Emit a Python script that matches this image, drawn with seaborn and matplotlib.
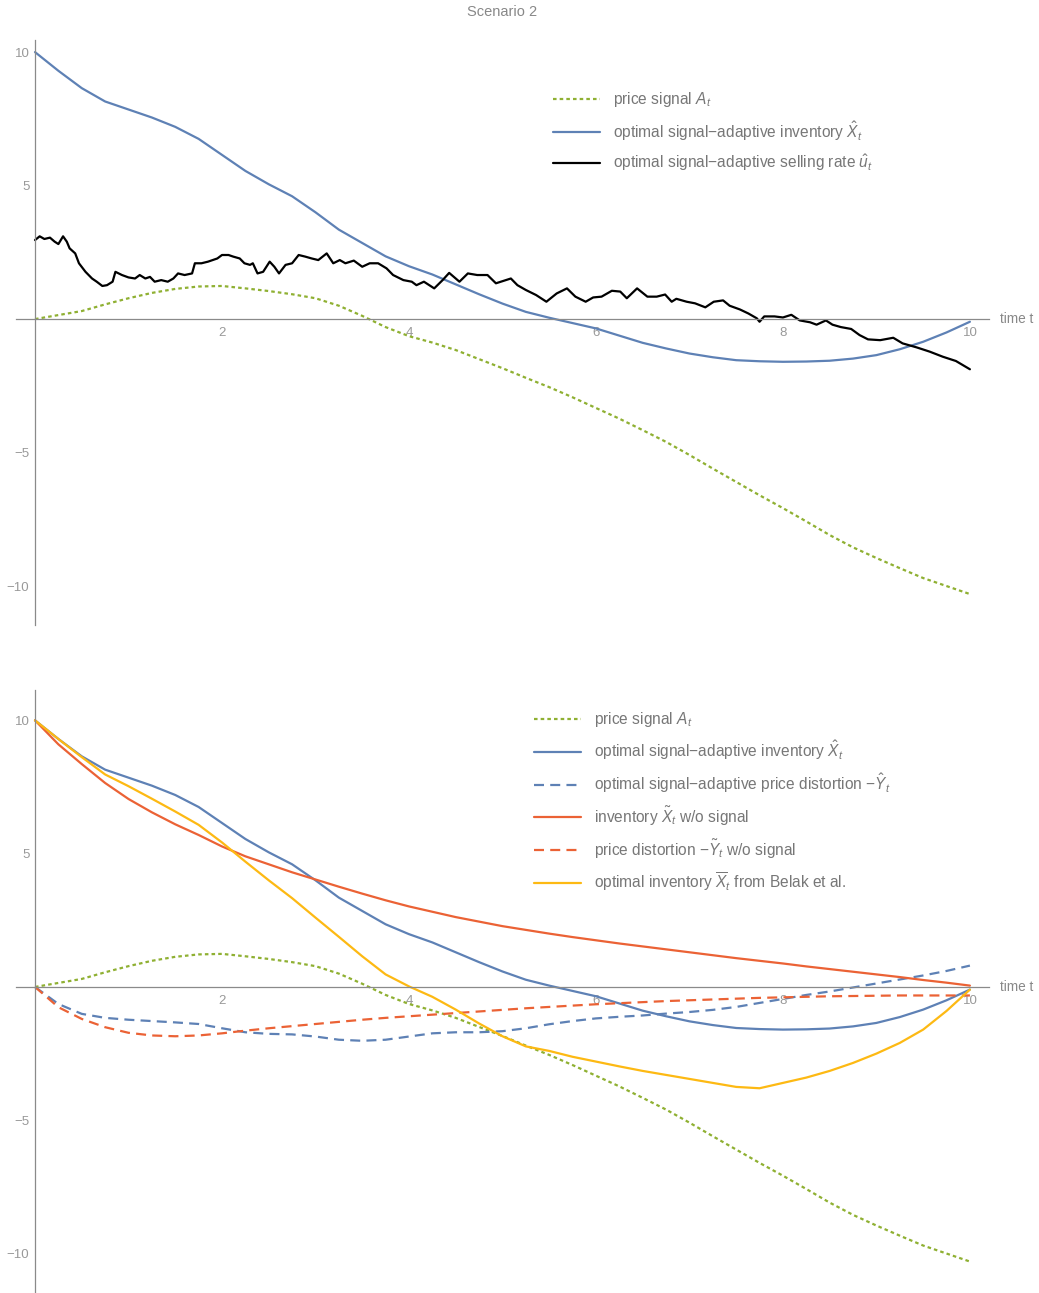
"""
Scenario 2: price signal, inventories and selling rate
"""

import matplotlib
matplotlib.use("Agg")
import matplotlib.pyplot as plt
import numpy as np
import seaborn as sns
from matplotlib.ticker import FixedLocator

# time grid (quarter steps)
t = [i * 0.25 for i in range(41)]

price_signal = [0, 0.15, 0.3, 0.55, 0.78, 0.98, 1.13, 1.22, 1.24, 1.15, 1.05, 0.93, 0.78, 0.5,
                0.12, -0.3, -0.64, -0.88, -1.16, -1.5, -1.84, -2.2, -2.55, -2.93, -3.33, -3.73,
                -4.16, -4.6, -5.09, -5.6, -6.1, -6.6, -7.08, -7.58, -8.09, -8.55, -8.95, -9.33,
                -9.7, -10.0, -10.3]

inv_hat = [10, 9.3, 8.65, 8.15, 7.85, 7.55, 7.2, 6.75, 6.15, 5.55, 5.05, 4.6, 4.0, 3.35, 2.85,
           2.35, 1.98, 1.67, 1.3, 0.93, 0.58, 0.27, 0.05, -0.15, -0.35, -0.62, -0.89, -1.1,
           -1.29, -1.43, -1.54, -1.58, -1.6, -1.59, -1.56, -1.48, -1.35, -1.13, -0.85, -0.5, -0.1]

dist_hat = [0, -0.64, -1.01, -1.16, -1.23, -1.28, -1.33, -1.39, -1.55, -1.7, -1.76, -1.78, -1.86,
            -1.98, -2.02, -1.98, -1.86, -1.74, -1.7, -1.7, -1.66, -1.55, -1.4, -1.28, -1.18,
            -1.12, -1.07, -1.0, -0.94, -0.86, -0.75, -0.6, -0.45, -0.3, -0.17, -0.02, 0.13, 0.28,
            0.43, 0.6, 0.8]

inv_tilde = [10, 9.1, 8.36, 7.65, 7.05, 6.55, 6.1, 5.7, 5.27, 4.9, 4.6, 4.3, 4.03, 3.76, 3.5,
             3.25, 3.02, 2.82, 2.62, 2.45, 2.28, 2.14, 2.0, 1.87, 1.75, 1.63, 1.52, 1.41, 1.3,
             1.19, 1.08, 0.98, 0.88, 0.77, 0.67, 0.57, 0.47, 0.37, 0.26, 0.16, 0.05]

dist_tilde = [0, -0.76, -1.2, -1.51, -1.72, -1.82, -1.85, -1.82, -1.74, -1.64, -1.55, -1.47,
              -1.39, -1.31, -1.23, -1.16, -1.1, -1.04, -0.98, -0.92, -0.86, -0.8, -0.75, -0.7,
              -0.65, -0.61, -0.57, -0.53, -0.5, -0.47, -0.44, -0.41, -0.39, -0.37, -0.35, -0.34,
              -0.33, -0.32, -0.32, -0.32, -0.32]

inv_belak = [10, 9.3, 8.62, 7.97, 7.53, 7.06, 6.58, 6.08, 5.42, 4.7, 4.0, 3.33, 2.6, 1.88, 1.15,
             0.47, 0.02, -0.37, -0.85, -1.37, -1.85, -2.23, -2.4, -2.62, -2.8, -2.98, -3.15,
             -3.3, -3.45, -3.6, -3.75, -3.8, -3.6, -3.4, -3.15, -2.85, -2.5, -2.1, -1.6, -0.9, -0.1]

# selling rate path
t_rate = [0.0, 0.05, 0.1, 0.16, 0.21, 0.25, 0.30, 0.34, 0.37, 0.43, 0.47, 0.54, 0.61, 0.66, 0.72,
          0.77, 0.83, 0.86, 0.93, 1.0, 1.07, 1.12, 1.18, 1.23, 1.28, 1.35, 1.42, 1.48, 1.53, 1.6,
          1.68, 1.71, 1.78, 1.85, 1.9, 1.95, 2.0, 2.07, 2.12, 2.19, 2.24, 2.3, 2.33, 2.38, 2.44,
          2.51, 2.56, 2.61, 2.68, 2.75, 2.82, 2.89, 2.96, 3.03, 3.12, 3.19, 3.26, 3.32, 3.41, 3.5,
          3.58, 3.67, 3.76, 3.83, 3.94, 4.03, 4.08, 4.16, 4.27, 4.36, 4.43, 4.54, 4.63, 4.73,
          4.84, 4.93, 5.02, 5.09, 5.16, 5.25, 5.36, 5.47, 5.58, 5.69, 5.78, 5.89, 5.97, 6.06,
          6.17, 6.26, 6.33, 6.44, 6.55, 6.65, 6.74, 6.81, 6.86, 6.97, 7.06, 7.17, 7.26, 7.36,
          7.43, 7.54, 7.63, 7.72, 7.75, 7.8, 7.91, 8.0, 8.09, 8.18, 8.29, 8.36, 8.46, 8.53, 8.62,
          8.73, 8.82, 8.91, 9.04, 9.18, 9.28, 9.43, 9.57, 9.71, 9.85, 10.0]
selling_rate = [2.96, 3.1, 3.0, 3.05, 2.9, 2.81, 3.1, 2.9, 2.65, 2.46, 2.09, 1.77, 1.52, 1.4, 1.24,
                1.27, 1.4, 1.77, 1.65, 1.56, 1.52, 1.65, 1.52, 1.58, 1.4, 1.46, 1.4, 1.52, 1.71,
                1.65, 1.71, 2.09, 2.09, 2.15, 2.21, 2.27, 2.4, 2.4, 2.34, 2.27, 2.09, 2.03, 2.09,
                1.71, 1.77, 2.15, 1.96, 1.71, 2.03, 2.09, 2.4, 2.34, 2.27, 2.21, 2.46, 2.09, 2.21,
                2.09, 2.19, 1.96, 2.09, 2.09, 1.9, 1.65, 1.46, 1.4, 1.27, 1.4, 1.15, 1.46, 1.73,
                1.4, 1.71, 1.65, 1.65, 1.34, 1.44, 1.52, 1.27, 1.09, 0.9, 0.65, 0.96, 1.15, 0.84,
                0.65, 0.81, 0.84, 1.06, 1.03, 0.78, 1.15, 0.84, 0.84, 0.92, 0.65, 0.76, 0.65, 0.59,
                0.44, 0.65, 0.7, 0.5, 0.36, 0.21, 0.03, -0.1, 0.1, 0.1, 0.06, 0.16, -0.05, -0.12,
                -0.21, -0.05, -0.21, -0.3, -0.37, -0.6, -0.76, -0.79, -0.7, -0.91, -1.06, -1.22,
                -1.41, -1.57, -1.88]

C_GREEN = "#8FB032"
C_BLUE = "#5E81B5"
C_RED = "#EB6235"
C_YELLOW = "#FDB913"
C_GRAY = "#8a8a8a"

sns.set_theme(style="white")
plt.rcParams["font.family"] = ["Liberation Sans", "DejaVu Sans"]
plt.rcParams["mathtext.fontset"] = "custom"
plt.rcParams["mathtext.rm"] = "Liberation Sans"
plt.rcParams["mathtext.it"] = "Liberation Sans:italic"

DOT = (0, (1.6, 1.4))
DASH = (0, (4.5, 2.8))
LW = 1.6
LEG_FS = 11.2

fig = plt.figure(figsize=(10.39, 12.93), dpi=100)
ax1 = fig.add_axes([0.0157, 0.5166, 0.9358, 0.4524])
ax2 = fig.add_axes([0.0157, 0.0, 0.9358, 0.4664])


def style_axes(ax, ylim):
    ax.set_xlim(-0.2, 10.2)
    ax.set_ylim(*ylim)
    for s in ["top", "right"]:
        ax.spines[s].set_visible(False)
    ax.spines["left"].set_position(("data", 0))
    ax.spines["bottom"].set_position(("data", 0))
    for s in ["left", "bottom"]:
        ax.spines[s].set_color(C_GRAY)
        ax.spines[s].set_linewidth(0.9)
    ax.xaxis.set_major_locator(FixedLocator([2, 4, 6, 8, 10]))
    ax.xaxis.set_minor_locator(FixedLocator([x * 0.5 for x in range(1, 21) if x % 4]))
    ax.yaxis.set_major_locator(FixedLocator([-10, -5, 5, 10]))
    ax.yaxis.set_minor_locator(FixedLocator([y for y in range(-11, 11) if y % 5]))
    ax.tick_params(which="both", direction="in", colors=C_GRAY, labelcolor="#999999",
                   labelsize=9.5, width=0.8)
    ax.tick_params(which="major", length=4.5)
    ax.tick_params(which="minor", length=3)
    ax.tick_params(axis="x", pad=6)
    ax.tick_params(axis="y", pad=4)
    ax.set_xlabel("")
    ax.set_ylabel("")
    ax.text(10.32, 0, "time t", ha="left", va="center", color="#888888", fontsize=9.8,
            clip_on=False)


# top panel
sns.lineplot(x=t, y=price_signal, ax=ax1, color=C_GREEN, linestyle=DOT, lw=LW,
             label=r"price signal $A_t$")
sns.lineplot(x=t, y=inv_hat, ax=ax1, color=C_BLUE, lw=LW,
             label=r"optimal signal$-$adaptive inventory $\hat{X}_t$")
sns.lineplot(x=t_rate, y=selling_rate, ax=ax1, color="black", lw=1.6,
             label=r"optimal signal$-$adaptive selling rate $\hat{u}_t$")
style_axes(ax1, (-11.46, 10.45))
ax1.legend(loc="upper left", bbox_to_anchor=(553 / 1039, 1 - 90 / 1293),
           bbox_transform=fig.transFigure, frameon=False, fontsize=LEG_FS, handlelength=3.0,
           handletextpad=0.85, labelspacing=0.66, borderpad=0, borderaxespad=0,
           labelcolor="#777777")

# bottom panel
sns.lineplot(x=t, y=price_signal, ax=ax2, color=C_GREEN, linestyle=DOT, lw=LW,
             label=r"price signal $A_t$")
sns.lineplot(x=t, y=inv_hat, ax=ax2, color=C_BLUE, lw=LW,
             label=r"optimal signal$-$adaptive inventory $\hat{X}_t$")
sns.lineplot(x=t, y=dist_hat, ax=ax2, color=C_BLUE, linestyle=DASH, lw=LW,
             label=r"optimal signal$-$adaptive price distortion $-\hat{Y}_t$")
sns.lineplot(x=t, y=inv_tilde, ax=ax2, color=C_RED, lw=LW,
             label=r"inventory $\tilde{X}_t$ w/o signal")
sns.lineplot(x=t, y=dist_tilde, ax=ax2, color=C_RED, linestyle=DASH, lw=LW,
             label=r"price distortion $-\tilde{Y}_t$ w/o signal")
sns.lineplot(x=t, y=inv_belak, ax=ax2, color=C_YELLOW, lw=LW,
             label=r"optimal inventory $\overline{X}_t$ from Belak et al.")
style_axes(ax2, (-11.48, 11.14))
ax2.legend(loc="upper left", bbox_to_anchor=(534 / 1039, 1 - 710 / 1293),
           bbox_transform=fig.transFigure, frameon=False, fontsize=LEG_FS, handlelength=3.0,
           handletextpad=0.85, labelspacing=0.62, borderpad=0, borderaxespad=0,
           labelcolor="#777777")

fig.text(502 / 1039, 1 - 12 / 1293, "Scenario 2", ha="center", va="center",
         color="#888888", fontsize=10.5)

fig.savefig("out.png", dpi=100)
plt.close(fig)
